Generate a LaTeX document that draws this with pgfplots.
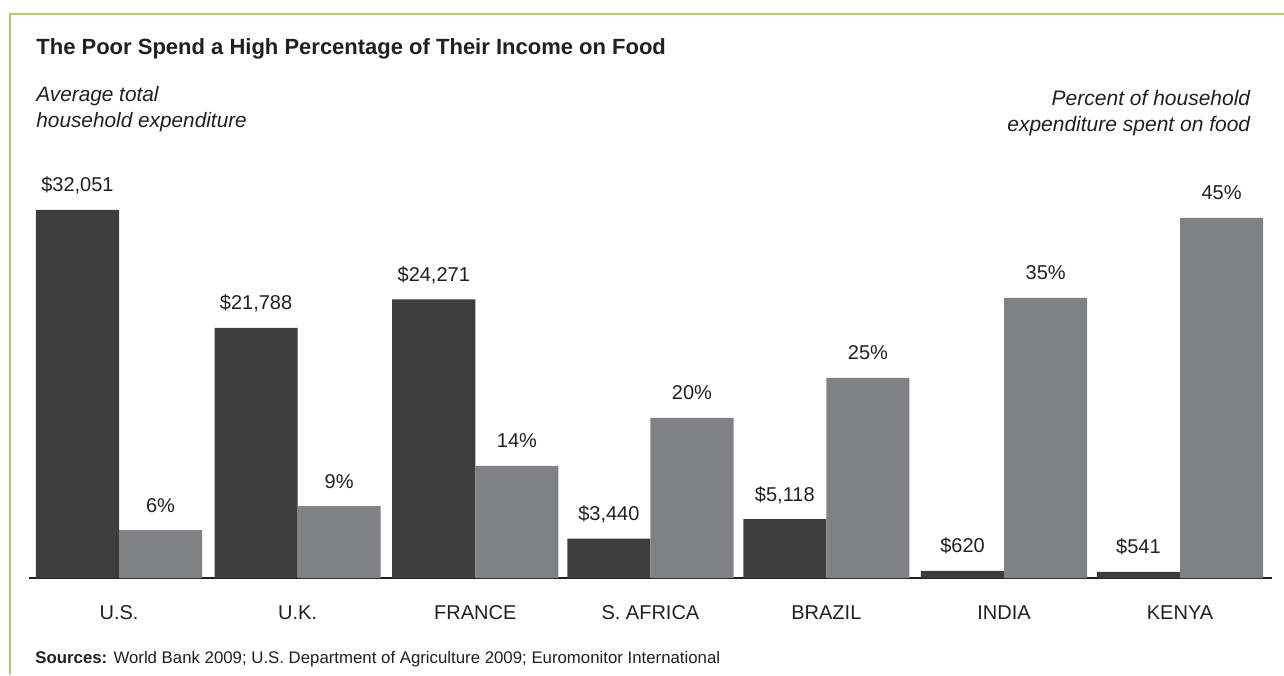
\documentclass[border=0pt]{standalone}
\usepackage{pgfplots}
\pgfplotsset{compat=1.18}
\usepackage{pgfplotstable}
\usepackage{fontspec}
\setmainfont{Liberation Sans}

\definecolor{darkbar}{HTML}{3D3D3D}
\definecolor{graybar}{HTML}{808184}
\definecolor{frame}{HTML}{B5CC6E}
\definecolor{ink}{HTML}{231F20}

% average household expenditure (USD) and share spent on food (%)
\pgfplotstableread{
x usd pct
0 32051 6
1.01 21788 9
2.015 24271 14
3.005 3440 20
4 5118 25
5.005 620 35
6 541 45
}\foodtable

\pgfplotsset{
  barbase/.style={
    at={(14.5pt,48.5pt)}, anchor=south west,
    width=621.5pt, height=199pt, scale only axis,
    xmin=-0.509, xmax=6.52, ymin=0,
    ybar, bar width=0.47,
    ytick=\empty,
    /pgf/number format/.cd, fixed, precision=0, 1000 sep={,}, assume math mode=true,
    /pgfplots/.cd,
    every node near coord/.append style={font=\fontsize{10}{12}\selectfont, text=ink, anchor=base, inner sep=0pt, yshift=9pt},
  }
}

\begin{document}
\begin{tikzpicture}
\useasboundingbox (0,0) rectangle (642pt,337.5pt);
\draw[frame, line width=1pt] (4.75pt,0) -- (4.75pt,330.25pt) -- (642pt,330.25pt);

\node[anchor=base west, inner sep=0pt, text=ink, font=\bfseries\fontsize{11}{13}\selectfont] at (18pt,310pt)
  {The Poor Spend a High Percentage of Their Income on Food};
\node[anchor=base west, inner sep=0pt, text=ink, font=\itshape\fontsize{10.4}{12}\selectfont] at (18pt,286.5pt) {Average total};
\node[anchor=base west, inner sep=0pt, text=ink, font=\itshape\fontsize{10.4}{12}\selectfont] at (18pt,273.5pt) {household expenditure};
\node[anchor=base east, inner sep=0pt, text=ink, font=\itshape\fontsize{10.5}{12}\selectfont] at (625.3pt,284.5pt) {Percent of household};
\node[anchor=base east, inner sep=0pt, text=ink, font=\itshape\fontsize{10.5}{12}\selectfont] at (625.3pt,271.5pt) {expenditure spent on food};

\begin{axis}[barbase, ymax=34664,
    axis x line*=bottom, axis y line=none,
    axis line style={-, line width=1.2pt, ink},
    xtick={0,1.01,2.015,3.005,4,5.005,6},
    xticklabels={U.S., U.K., FRANCE, S. AFRICA, BRAZIL, INDIA, KENYA},
    xtick style={draw=none},
    xticklabel style={font=\fontsize{10}{12}\selectfont, text=ink, anchor=north, inner sep=0pt, yshift=-9.5pt},
  ]
  \addplot[fill=darkbar, draw=none, bar shift=-0.235,
    nodes near coords={\$\pgfmathprintnumber{\pgfplotspointmeta}}]
    table[x=x, y=usd] {\foodtable};
\end{axis}

\begin{axis}[barbase, ymax=49.75, hide axis]
  \addplot[fill=graybar, draw=none, bar shift=0.235,
    nodes near coords={\pgfmathprintnumber{\pgfplotspointmeta}\%}]
    table[x=x, y=pct] {\foodtable};
\end{axis}

\node[anchor=base west, inner sep=0pt, text=ink, font=\fontsize{8.4}{10}\selectfont] at (17.5pt,6pt)
  {\textbf{Sources:} World Bank 2009; U.S. Department of Agriculture 2009; Euromonitor International};
\end{tikzpicture}
\end{document}
